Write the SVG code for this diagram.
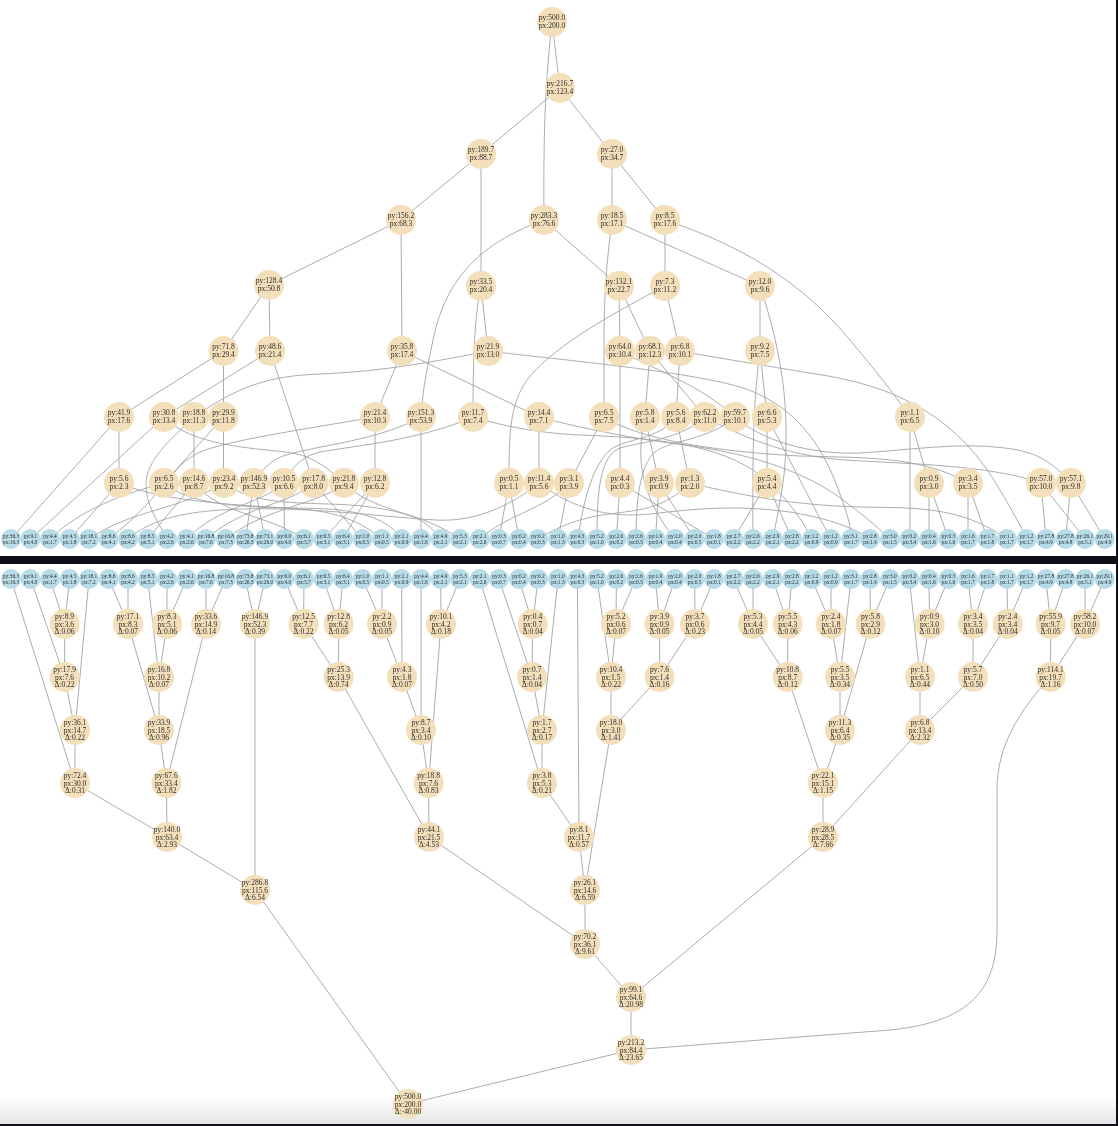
<svg xmlns="http://www.w3.org/2000/svg" width="1118" height="1126" viewBox="0 0 1118 1126">
<style>
.e path{fill:none;stroke:#a4a4a4;stroke-width:.9}
.n{fill:#f3dfba}
.l{fill:#b7dce8}
text{font-family:"Liberation Serif","Times New Roman",serif;fill:#2c2c2c;text-anchor:middle}
.t{font-size:7.5px}
.s{font-size:5.4px}
</style>
<defs>
<filter id="soft" x="0" y="0" width="1" height="1"><feGaussianBlur stdDeviation="0.45"/></filter>
<linearGradient id="fade" x1="0" y1="0" x2="0" y2="1"><stop offset="0" stop-color="#fff"/><stop offset="1" stop-color="#e6e6e6"/></linearGradient>
</defs>
<rect width="1118" height="1126" fill="#fff"/>
<rect y="1096" width="1118" height="28" fill="url(#fade)"/>
<g filter="url(#soft)">
<g id="connectors" class="e">
<path d="M552 22L560 88M552 22C547 70 543 110 544 220M560 88L481 154M560 88L612 154M481 154L401 220M481 154L481 286M612 154L612 220M612 154L665 220M401 220L269 285M401 220L402 351M544 220L619 286M544 220C490 240 447 270 433 340C428 365 423 385 421 417M612 220C608 250 604 290 604 340L604 417M612 220L760 286M665 220L665 286M665 220C740 245 800 280 850 340C875 370 895 395 910 417"/>
<path d="M481 286L488 351M481 286C476 310 473 340 473 417M619 286L620 351M619 286L650 351M665 286C600 320 550 350 527 380C510 405 509 430 509 483M665 286L680 351M760 286L760 351M760 286C778 340 787 390 786 440C786 480 778 510 773 539M269 285L223.500 351M269 285L270 351"/>
<path d="M223.500 351L119 417M223.500 351L223.500 417M270 351L164 417M270 351L313.600 483M402 351L375 417M402 351L539 417M488 351C420 365 370 372 320 374C270 376 240 385 194 417M488 351C560 360 700 372 749 390C800 410 825 450 841 497C846 510 851 525 851 539M680 351C730 360 780 368 809 373C900 385 960 420 1000 490C1012 510 1020 525 1027 539M620 351L620 483M620 351C660 372 700 385 735 417M650 351L645 417M650 351L705 417M680 351L676 417M760 351L767 417M760 351C755 390 752 430 753 539"/>
<path d="M119 417L119 483M119 417L11 539M164 417L30.500 539M164 417C190 445 250 448 286 452C310 455 325 465 344 483M194 417L194 483M194 417C170 440 146 460 146 485C146 505 157 520 167 539M223.500 417L223.500 483M223.500 417L164 483M375 417L375 483M375 417C300 430 230 440 200 452C185 460 180 465 175 472C155 495 140 515 108.700 539M421 417C380 440 320 445 286 455C270 460 262 470 254 483M421 417L421 539M473 417C420 440 360 445 320 452C300 457 292 468 284 483M473 417C500 425 535 433 580 435C660 438 720 445 760 475C780 490 800 515 812 539M539 417L539 483M539 417C580 428 640 440 685 445C760 455 810 475 843 500C860 512 875 525 890 539M604 417L569 483M604 417C640 440 720 452 800 456C860 458 920 455 968 483M645 417L659 483M645 417C638 450 635 490 675 539M676 417L690 483M676 417C660 440 625 438 610 450C590 468 582 510 578 539M705 417C740 435 780 455 845 460C910 464 990 465 1041 483M705 417C680 440 640 442 620 448C600 456 597 490 597 539M735 417C760 440 810 455 860 453C910 450 960 442 1005 448C1040 452 1055 465 1071 483M735 417C710 440 670 440 655 452C640 465 636 500 636 539M767 417L767 483M767 417C790 460 815 510 831 539M910 417L929 483M910 417L910 539"/>
<path d="M119 483L69.600 539M119 483C170 505 260 505 310 510C345 514 365 525 382 539M164 483C120 495 80 510 50 539M164 483C200 515 300 505 340 510C370 514 390 522 402 539M194 483L147.700 539M194 483C220 515 270 515 304 539M224 483C180 510 130 510 89 539M224 483C260 510 320 500 370 507C410 512 440 525 460 539M254 483L245.400 539M254 483L265 539M284 483L284.400 539M284 483C260 505 220 505 186.800 539M313.600 483C290 505 245 505 206 539M313.600 483L362.500 539M344 483C320 505 270 505 225.800 539M344 483C365 505 400 510 420 520C428 524 435 532 441 539M375 483L323.500 539M375 483L343 539M509 483L499 539M509 483L519 539M539 483C505 510 470 522 436 520C370 516 300 505 220 510C180 513 150 520 128 539M539 483C575 510 610 518 650 514C700 508 740 505 790 512C820 517 850 525 870 539M569 483L558 539M569 483C545 510 505 515 480 539M620 483L616.400 539M620 483L714 539M659 483L655.500 539M659 483L694.600 539M690 483C665 508 640 510 617 513C590 516 565 522 538 539M690 483C740 495 790 505 860 507C910 508 960 505 1007 539M767 483L733.600 539M767 483L792 539M929 483L929 539M929 483L948.400 539M968 483L968 539M968 483L987.500 539M1041 483L1046 539M1041 483L1085 539M1071 483L1065.600 539M1071 483L1104.700 539"/>
<path d="M11 579L75 783M30.500 579L64.600 677M50 579L64.600 624M69.600 579L64.600 624M89 579L75 730M108.700 579L128 624M128 579L128 624M147.700 579L159 677M167 579L167 624M186.800 579L167 624M206 579L206 624M225.800 579L206 624M245.400 579L255 624M265 579L255 624M284.400 579L303.600 624M304 579L303.600 624M323.500 579L338.600 624M343 579L338.600 624M362.500 579L382 624M382 579L382 624M401.600 579L402 677M421 579L421 730M440.700 579L441 624M460 579L441 624M479.700 579L542 783M499 579L532 677M519 579L532.700 624M538 579L532.700 624M558 579L542 730M577.400 579L579 837M597 579L611 677M616.400 579L616 624M636 579L616 624M655.500 579L659.600 624M675 579L659.600 624M694.600 579L695 624M714 579L695 624M733.600 579L753 624M753 579L753 624M772.700 579L787.700 624M792 579L787.700 624M811.700 579L831 624M831 579L831 624M851 579L840 677M870 579L870.500 624M890 579L870.500 624M909.400 579L920 677M929 579L929.600 624M948.400 579L929.600 624M968 579L973 624M987.500 579L973 624M1007 579L1007.700 624M1026.600 579L1007.700 624M1046 579L1050.600 624M1065.600 579L1050.600 624M1085 579L1085 624M1104.700 579L1085 624"/>
<path d="M64.600 624L64.600 677M64.600 677L75 730M75 730L75 783M75 783L167 837M128 624L159 730M167 624L159 677M159 677L159 730M206 624L166.400 783M159 730L166.400 783M166.400 783L167 837M167 837L255 890M255 624L255 890M255 890L408 1104M303.600 624L338.600 677M338.600 624L338.600 677M338.600 677L429 837M382 624L402 677M402 677L421 730M421 730L428.600 783M441 624L428.600 783M428.600 783L429 837M429 837L585 944M532.700 624L532 677M532 677L542 730M542 730L542 783M542 783L579 837M579 837L585 890M616 624L611 677M611 677L611 730M659.600 624L659.600 677M695 624L659.600 677M659.600 677L611 730M611 730L585 890M585 890L585 944M585 944L631 997M753 624L787.700 677M787.700 624L787.700 677M787.700 677L823 783M831 624L840 677M840 677L840 730M870.500 624L840 730M840 730L823 783M823 783L823 837M823 837L631 997M929.600 624L920 677M920 677L920 730M973 624L973 677M1007.700 624L973 677M973 677L920 730M920 730L823 837M1050.600 624L1050.600 677M1085 624L1050.600 677M1050.600 677C1020 710 997 745 997 790L997 930C997 990 970 1022 890 1030L631 1050M631 997L631 1050M631 1050L408 1104"/>
</g>
<g id="t1" transform="translate(552 22)"><circle class="n" r="15"/><text class="t" y="-2">py:500.0</text><text class="t" y="5.500">px:200.0</text></g>
<g id="t2" transform="translate(560 88)"><circle class="n" r="15"/><text class="t" y="-2">py:216.7</text><text class="t" y="5.500">px:123.4</text></g>
<g id="t3" transform="translate(481 154)"><circle class="n" r="15"/><text class="t" y="-2">py:189.7</text><text class="t" y="5.500">px:88.7</text></g>
<g id="t4" transform="translate(612 154)"><circle class="n" r="15"/><text class="t" y="-2">py:27.0</text><text class="t" y="5.500">px:34.7</text></g>
<g id="t5" transform="translate(401 220)"><circle class="n" r="15"/><text class="t" y="-2">py:156.2</text><text class="t" y="5.500">px:68.3</text></g>
<g id="t6" transform="translate(544 220)"><circle class="n" r="15"/><text class="t" y="-2">py:283.3</text><text class="t" y="5.500">px:76.6</text></g>
<g id="t7" transform="translate(612 220)"><circle class="n" r="15"/><text class="t" y="-2">py:18.5</text><text class="t" y="5.500">px:17.1</text></g>
<g id="t8" transform="translate(665 220)"><circle class="n" r="15"/><text class="t" y="-2">py:8.5</text><text class="t" y="5.500">px:17.6</text></g>
<g id="t9" transform="translate(269 285)"><circle class="n" r="15"/><text class="t" y="-2">py:128.4</text><text class="t" y="5.500">px:50.8</text></g>
<g id="t10" transform="translate(481 286)"><circle class="n" r="15"/><text class="t" y="-2">py:33.5</text><text class="t" y="5.500">px:20.4</text></g>
<g id="t11" transform="translate(619 286)"><circle class="n" r="15"/><text class="t" y="-2">py:132.1</text><text class="t" y="5.500">px:22.7</text></g>
<g id="t12" transform="translate(665 286)"><circle class="n" r="15"/><text class="t" y="-2">py:7.3</text><text class="t" y="5.500">px:11.2</text></g>
<g id="t13" transform="translate(760 286)"><circle class="n" r="15"/><text class="t" y="-2">py:12.0</text><text class="t" y="5.500">px:9.6</text></g>
<g id="t14" transform="translate(223.500 351)"><circle class="n" r="15"/><text class="t" y="-2">py:71.8</text><text class="t" y="5.500">px:29.4</text></g>
<g id="t15" transform="translate(270 351)"><circle class="n" r="15"/><text class="t" y="-2">py:48.6</text><text class="t" y="5.500">px:21.4</text></g>
<g id="t16" transform="translate(402 351)"><circle class="n" r="15"/><text class="t" y="-2">py:35.8</text><text class="t" y="5.500">px:17.4</text></g>
<g id="t17" transform="translate(488 351)"><circle class="n" r="15"/><text class="t" y="-2">py:21.9</text><text class="t" y="5.500">px:13.0</text></g>
<g id="t18" transform="translate(620 351)"><circle class="n" r="15"/><text class="t" y="-2">py:64.0</text><text class="t" y="5.500">px:10.4</text></g>
<g id="t19" transform="translate(650 351)"><circle class="n" r="15"/><text class="t" y="-2">py:68.1</text><text class="t" y="5.500">px:12.3</text></g>
<g id="t20" transform="translate(680 351)"><circle class="n" r="15"/><text class="t" y="-2">py:6.8</text><text class="t" y="5.500">px:10.1</text></g>
<g id="t21" transform="translate(760 351)"><circle class="n" r="15"/><text class="t" y="-2">py:9.2</text><text class="t" y="5.500">px:7.5</text></g>
<g id="t22" transform="translate(119 417)"><circle class="n" r="15"/><text class="t" y="-2">py:41.9</text><text class="t" y="5.500">px:17.6</text></g>
<g id="t23" transform="translate(164 417)"><circle class="n" r="15"/><text class="t" y="-2">py:30.8</text><text class="t" y="5.500">px:13.4</text></g>
<g id="t24" transform="translate(194 417)"><circle class="n" r="15"/><text class="t" y="-2">py:18.8</text><text class="t" y="5.500">px:11.3</text></g>
<g id="t25" transform="translate(223.500 417)"><circle class="n" r="15"/><text class="t" y="-2">py:29.9</text><text class="t" y="5.500">px:11.8</text></g>
<g id="t26" transform="translate(375 417)"><circle class="n" r="15"/><text class="t" y="-2">py:21.4</text><text class="t" y="5.500">px:10.3</text></g>
<g id="t27" transform="translate(421 417)"><circle class="n" r="15"/><text class="t" y="-2">py:151.3</text><text class="t" y="5.500">px:53.9</text></g>
<g id="t28" transform="translate(473 417)"><circle class="n" r="15"/><text class="t" y="-2">py:11.7</text><text class="t" y="5.500">px:7.4</text></g>
<g id="t29" transform="translate(539 417)"><circle class="n" r="15"/><text class="t" y="-2">py:14.4</text><text class="t" y="5.500">px:7.1</text></g>
<g id="t30" transform="translate(604 417)"><circle class="n" r="15"/><text class="t" y="-2">py:6.5</text><text class="t" y="5.500">px:7.5</text></g>
<g id="t31" transform="translate(645 417)"><circle class="n" r="15"/><text class="t" y="-2">py:5.8</text><text class="t" y="5.500">px:1.4</text></g>
<g id="t32" transform="translate(676 417)"><circle class="n" r="15"/><text class="t" y="-2">py:5.6</text><text class="t" y="5.500">px:8.4</text></g>
<g id="t33" transform="translate(705 417)"><circle class="n" r="15"/><text class="t" y="-2">py:62.2</text><text class="t" y="5.500">px:11.0</text></g>
<g id="t34" transform="translate(735 417)"><circle class="n" r="15"/><text class="t" y="-2">py:59.7</text><text class="t" y="5.500">px:10.1</text></g>
<g id="t35" transform="translate(767 417)"><circle class="n" r="15"/><text class="t" y="-2">py:6.6</text><text class="t" y="5.500">px:5.3</text></g>
<g id="t36" transform="translate(910 417)"><circle class="n" r="15"/><text class="t" y="-2">py:1.1</text><text class="t" y="5.500">px:6.5</text></g>
<g id="t37" transform="translate(119 483)"><circle class="n" r="15"/><text class="t" y="-2">py:5.6</text><text class="t" y="5.500">px:2.3</text></g>
<g id="t38" transform="translate(164 483)"><circle class="n" r="15"/><text class="t" y="-2">py:6.5</text><text class="t" y="5.500">px:2.6</text></g>
<g id="t39" transform="translate(194 483)"><circle class="n" r="15"/><text class="t" y="-2">py:14.6</text><text class="t" y="5.500">px:8.7</text></g>
<g id="t40" transform="translate(224 483)"><circle class="n" r="15"/><text class="t" y="-2">py:23.4</text><text class="t" y="5.500">px:9.2</text></g>
<g id="t41" transform="translate(254 483)"><circle class="n" r="15"/><text class="t" y="-2">py:146.9</text><text class="t" y="5.500">px:52.3</text></g>
<g id="t42" transform="translate(284 483)"><circle class="n" r="15"/><text class="t" y="-2">py:10.5</text><text class="t" y="5.500">px:6.6</text></g>
<g id="t43" transform="translate(313.600 483)"><circle class="n" r="15"/><text class="t" y="-2">py:17.8</text><text class="t" y="5.500">px:8.0</text></g>
<g id="t44" transform="translate(344 483)"><circle class="n" r="15"/><text class="t" y="-2">py:21.8</text><text class="t" y="5.500">px:9.4</text></g>
<g id="t45" transform="translate(375 483)"><circle class="n" r="15"/><text class="t" y="-2">py:12.8</text><text class="t" y="5.500">px:6.2</text></g>
<g id="t46" transform="translate(509 483)"><circle class="n" r="15"/><text class="t" y="-2">py:0.5</text><text class="t" y="5.500">px:1.1</text></g>
<g id="t47" transform="translate(539 483)"><circle class="n" r="15"/><text class="t" y="-2">py:11.4</text><text class="t" y="5.500">px:5.6</text></g>
<g id="t48" transform="translate(569 483)"><circle class="n" r="15"/><text class="t" y="-2">py:3.1</text><text class="t" y="5.500">px:3.9</text></g>
<g id="t49" transform="translate(620 483)"><circle class="n" r="15"/><text class="t" y="-2">py:4.4</text><text class="t" y="5.500">px:0.3</text></g>
<g id="t50" transform="translate(659 483)"><circle class="n" r="15"/><text class="t" y="-2">py:3.9</text><text class="t" y="5.500">px:0.9</text></g>
<g id="t51" transform="translate(690 483)"><circle class="n" r="15"/><text class="t" y="-2">py:1.3</text><text class="t" y="5.500">px:2.0</text></g>
<g id="t52" transform="translate(767 483)"><circle class="n" r="15"/><text class="t" y="-2">py:5.4</text><text class="t" y="5.500">px:4.4</text></g>
<g id="t53" transform="translate(929 483)"><circle class="n" r="15"/><text class="t" y="-2">py:0.9</text><text class="t" y="5.500">px:3.0</text></g>
<g id="t54" transform="translate(968 483)"><circle class="n" r="15"/><text class="t" y="-2">py:3.4</text><text class="t" y="5.500">px:3.5</text></g>
<g id="t55" transform="translate(1041 483)"><circle class="n" r="15"/><text class="t" y="-2">py:57.0</text><text class="t" y="5.500">px:10.0</text></g>
<g id="t56" transform="translate(1071 483)"><circle class="n" r="15"/><text class="t" y="-2">py:57.1</text><text class="t" y="5.500">px:9.8</text></g>
<g id="lt0" transform="translate(11 539)"><circle class="l" r="10"/><text class="s" y="-1.500">py:36.3</text><text class="s" y="5">px:19.3</text></g>
<g id="lt1" transform="translate(30.500 539)"><circle class="l" r="10"/><text class="s" y="-1.500">py:9.1</text><text class="s" y="5">px:4.0</text></g>
<g id="lt2" transform="translate(50 539)"><circle class="l" r="10"/><text class="s" y="-1.500">py:4.4</text><text class="s" y="5">px:1.7</text></g>
<g id="lt3" transform="translate(69.600 539)"><circle class="l" r="10"/><text class="s" y="-1.500">py:4.5</text><text class="s" y="5">px:1.8</text></g>
<g id="lt4" transform="translate(89 539)"><circle class="l" r="10"/><text class="s" y="-1.500">py:18.1</text><text class="s" y="5">px:7.2</text></g>
<g id="lt5" transform="translate(108.700 539)"><circle class="l" r="10"/><text class="s" y="-1.500">py:8.6</text><text class="s" y="5">px:4.1</text></g>
<g id="lt6" transform="translate(128 539)"><circle class="l" r="10"/><text class="s" y="-1.500">py:8.6</text><text class="s" y="5">px:4.2</text></g>
<g id="lt7" transform="translate(147.700 539)"><circle class="l" r="10"/><text class="s" y="-1.500">py:8.5</text><text class="s" y="5">px:5.1</text></g>
<g id="lt8" transform="translate(167 539)"><circle class="l" r="10"/><text class="s" y="-1.500">py:4.2</text><text class="s" y="5">px:2.6</text></g>
<g id="lt9" transform="translate(186.800 539)"><circle class="l" r="10"/><text class="s" y="-1.500">py:4.1</text><text class="s" y="5">px:2.6</text></g>
<g id="lt10" transform="translate(206 539)"><circle class="l" r="10"/><text class="s" y="-1.500">py:16.8</text><text class="s" y="5">px:7.6</text></g>
<g id="lt11" transform="translate(225.800 539)"><circle class="l" r="10"/><text class="s" y="-1.500">py:16.8</text><text class="s" y="5">px:7.3</text></g>
<g id="lt12" transform="translate(245.400 539)"><circle class="l" r="10"/><text class="s" y="-1.500">py:73.8</text><text class="s" y="5">px:26.3</text></g>
<g id="lt13" transform="translate(265 539)"><circle class="l" r="10"/><text class="s" y="-1.500">py:73.1</text><text class="s" y="5">px:26.0</text></g>
<g id="lt14" transform="translate(284.400 539)"><circle class="l" r="10"/><text class="s" y="-1.500">py:6.0</text><text class="s" y="5">px:4.0</text></g>
<g id="lt15" transform="translate(304 539)"><circle class="l" r="10"/><text class="s" y="-1.500">py:6.1</text><text class="s" y="5">px:3.7</text></g>
<g id="lt16" transform="translate(323.500 539)"><circle class="l" r="10"/><text class="s" y="-1.500">py:6.5</text><text class="s" y="5">px:3.1</text></g>
<g id="lt17" transform="translate(343 539)"><circle class="l" r="10"/><text class="s" y="-1.500">py:6.4</text><text class="s" y="5">px:3.1</text></g>
<g id="lt18" transform="translate(362.500 539)"><circle class="l" r="10"/><text class="s" y="-1.500">py:1.0</text><text class="s" y="5">px:0.5</text></g>
<g id="lt19" transform="translate(382 539)"><circle class="l" r="10"/><text class="s" y="-1.500">py:1.1</text><text class="s" y="5">px:0.5</text></g>
<g id="lt20" transform="translate(401.600 539)"><circle class="l" r="10"/><text class="s" y="-1.500">py:2.1</text><text class="s" y="5">px:0.9</text></g>
<g id="lt21" transform="translate(421 539)"><circle class="l" r="10"/><text class="s" y="-1.500">py:4.4</text><text class="s" y="5">px:1.6</text></g>
<g id="lt22" transform="translate(440.700 539)"><circle class="l" r="10"/><text class="s" y="-1.500">py:4.9</text><text class="s" y="5">px:2.1</text></g>
<g id="lt23" transform="translate(460 539)"><circle class="l" r="10"/><text class="s" y="-1.500">py:5.3</text><text class="s" y="5">px:2.1</text></g>
<g id="lt24" transform="translate(479.700 539)"><circle class="l" r="10"/><text class="s" y="-1.500">py:2.1</text><text class="s" y="5">px:2.6</text></g>
<g id="lt25" transform="translate(499 539)"><circle class="l" r="10"/><text class="s" y="-1.500">py:0.3</text><text class="s" y="5">px:0.7</text></g>
<g id="lt26" transform="translate(519 539)"><circle class="l" r="10"/><text class="s" y="-1.500">py:0.2</text><text class="s" y="5">px:0.4</text></g>
<g id="lt27" transform="translate(538 539)"><circle class="l" r="10"/><text class="s" y="-1.500">py:0.2</text><text class="s" y="5">px:0.3</text></g>
<g id="lt28" transform="translate(558 539)"><circle class="l" r="10"/><text class="s" y="-1.500">py:1.0</text><text class="s" y="5">px:1.3</text></g>
<g id="lt29" transform="translate(577.400 539)"><circle class="l" r="10"/><text class="s" y="-1.500">py:4.3</text><text class="s" y="5">px:6.3</text></g>
<g id="lt30" transform="translate(597 539)"><circle class="l" r="10"/><text class="s" y="-1.500">py:5.2</text><text class="s" y="5">px:1.0</text></g>
<g id="lt31" transform="translate(616.400 539)"><circle class="l" r="10"/><text class="s" y="-1.500">py:2.6</text><text class="s" y="5">px:0.2</text></g>
<g id="lt32" transform="translate(636 539)"><circle class="l" r="10"/><text class="s" y="-1.500">py:2.6</text><text class="s" y="5">px:0.3</text></g>
<g id="lt33" transform="translate(655.500 539)"><circle class="l" r="10"/><text class="s" y="-1.500">py:1.9</text><text class="s" y="5">px:0.4</text></g>
<g id="lt34" transform="translate(675 539)"><circle class="l" r="10"/><text class="s" y="-1.500">py:2.0</text><text class="s" y="5">px:0.4</text></g>
<g id="lt35" transform="translate(694.600 539)"><circle class="l" r="10"/><text class="s" y="-1.500">py:2.0</text><text class="s" y="5">px:0.5</text></g>
<g id="lt36" transform="translate(714 539)"><circle class="l" r="10"/><text class="s" y="-1.500">py:1.8</text><text class="s" y="5">px:0.1</text></g>
<g id="lt37" transform="translate(733.600 539)"><circle class="l" r="10"/><text class="s" y="-1.500">py:2.7</text><text class="s" y="5">px:2.2</text></g>
<g id="lt38" transform="translate(753 539)"><circle class="l" r="10"/><text class="s" y="-1.500">py:2.6</text><text class="s" y="5">px:2.2</text></g>
<g id="lt39" transform="translate(772.700 539)"><circle class="l" r="10"/><text class="s" y="-1.500">py:2.9</text><text class="s" y="5">px:2.1</text></g>
<g id="lt40" transform="translate(792 539)"><circle class="l" r="10"/><text class="s" y="-1.500">py:2.8</text><text class="s" y="5">px:2.2</text></g>
<g id="lt41" transform="translate(811.700 539)"><circle class="l" r="10"/><text class="s" y="-1.500">py:1.2</text><text class="s" y="5">px:0.9</text></g>
<g id="lt42" transform="translate(831 539)"><circle class="l" r="10"/><text class="s" y="-1.500">py:1.2</text><text class="s" y="5">px:0.9</text></g>
<g id="lt43" transform="translate(851 539)"><circle class="l" r="10"/><text class="s" y="-1.500">py:3.1</text><text class="s" y="5">px:1.7</text></g>
<g id="lt44" transform="translate(870 539)"><circle class="l" r="10"/><text class="s" y="-1.500">py:2.8</text><text class="s" y="5">px:1.4</text></g>
<g id="lt45" transform="translate(890 539)"><circle class="l" r="10"/><text class="s" y="-1.500">py:3.0</text><text class="s" y="5">px:1.5</text></g>
<g id="lt46" transform="translate(909.400 539)"><circle class="l" r="10"/><text class="s" y="-1.500">py:0.2</text><text class="s" y="5">px:3.4</text></g>
<g id="lt47" transform="translate(929 539)"><circle class="l" r="10"/><text class="s" y="-1.500">py:0.4</text><text class="s" y="5">px:1.6</text></g>
<g id="lt48" transform="translate(948.400 539)"><circle class="l" r="10"/><text class="s" y="-1.500">py:0.3</text><text class="s" y="5">px:1.6</text></g>
<g id="lt49" transform="translate(968 539)"><circle class="l" r="10"/><text class="s" y="-1.500">py:1.6</text><text class="s" y="5">px:1.7</text></g>
<g id="lt50" transform="translate(987.500 539)"><circle class="l" r="10"/><text class="s" y="-1.500">py:1.7</text><text class="s" y="5">px:1.8</text></g>
<g id="lt51" transform="translate(1007 539)"><circle class="l" r="10"/><text class="s" y="-1.500">py:1.1</text><text class="s" y="5">px:1.7</text></g>
<g id="lt52" transform="translate(1026.600 539)"><circle class="l" r="10"/><text class="s" y="-1.500">py:1.2</text><text class="s" y="5">px:1.7</text></g>
<g id="lt53" transform="translate(1046 539)"><circle class="l" r="10"/><text class="s" y="-1.500">py:27.8</text><text class="s" y="5">px:4.9</text></g>
<g id="lt54" transform="translate(1065.600 539)"><circle class="l" r="10"/><text class="s" y="-1.500">py:27.8</text><text class="s" y="5">px:4.8</text></g>
<g id="lt55" transform="translate(1085 539)"><circle class="l" r="10"/><text class="s" y="-1.500">py:26.1</text><text class="s" y="5">px:5.1</text></g>
<g id="lt56" transform="translate(1104.700 539)"><circle class="l" r="10"/><text class="s" y="-1.500">py:29.1</text><text class="s" y="5">px:4.9</text></g>
<g id="lb0" transform="translate(11 579)"><circle class="l" r="10"/><text class="s" y="-1.500">py:36.3</text><text class="s" y="5">px:19.3</text></g>
<g id="lb1" transform="translate(30.500 579)"><circle class="l" r="10"/><text class="s" y="-1.500">py:9.1</text><text class="s" y="5">px:4.0</text></g>
<g id="lb2" transform="translate(50 579)"><circle class="l" r="10"/><text class="s" y="-1.500">py:4.4</text><text class="s" y="5">px:1.7</text></g>
<g id="lb3" transform="translate(69.600 579)"><circle class="l" r="10"/><text class="s" y="-1.500">py:4.5</text><text class="s" y="5">px:1.8</text></g>
<g id="lb4" transform="translate(89 579)"><circle class="l" r="10"/><text class="s" y="-1.500">py:18.1</text><text class="s" y="5">px:7.2</text></g>
<g id="lb5" transform="translate(108.700 579)"><circle class="l" r="10"/><text class="s" y="-1.500">py:8.6</text><text class="s" y="5">px:4.1</text></g>
<g id="lb6" transform="translate(128 579)"><circle class="l" r="10"/><text class="s" y="-1.500">py:8.6</text><text class="s" y="5">px:4.2</text></g>
<g id="lb7" transform="translate(147.700 579)"><circle class="l" r="10"/><text class="s" y="-1.500">py:8.5</text><text class="s" y="5">px:5.1</text></g>
<g id="lb8" transform="translate(167 579)"><circle class="l" r="10"/><text class="s" y="-1.500">py:4.2</text><text class="s" y="5">px:2.6</text></g>
<g id="lb9" transform="translate(186.800 579)"><circle class="l" r="10"/><text class="s" y="-1.500">py:4.1</text><text class="s" y="5">px:2.6</text></g>
<g id="lb10" transform="translate(206 579)"><circle class="l" r="10"/><text class="s" y="-1.500">py:16.8</text><text class="s" y="5">px:7.6</text></g>
<g id="lb11" transform="translate(225.800 579)"><circle class="l" r="10"/><text class="s" y="-1.500">py:16.8</text><text class="s" y="5">px:7.3</text></g>
<g id="lb12" transform="translate(245.400 579)"><circle class="l" r="10"/><text class="s" y="-1.500">py:73.8</text><text class="s" y="5">px:26.3</text></g>
<g id="lb13" transform="translate(265 579)"><circle class="l" r="10"/><text class="s" y="-1.500">py:73.1</text><text class="s" y="5">px:26.0</text></g>
<g id="lb14" transform="translate(284.400 579)"><circle class="l" r="10"/><text class="s" y="-1.500">py:6.0</text><text class="s" y="5">px:4.0</text></g>
<g id="lb15" transform="translate(304 579)"><circle class="l" r="10"/><text class="s" y="-1.500">py:6.1</text><text class="s" y="5">px:3.7</text></g>
<g id="lb16" transform="translate(323.500 579)"><circle class="l" r="10"/><text class="s" y="-1.500">py:6.5</text><text class="s" y="5">px:3.1</text></g>
<g id="lb17" transform="translate(343 579)"><circle class="l" r="10"/><text class="s" y="-1.500">py:6.4</text><text class="s" y="5">px:3.1</text></g>
<g id="lb18" transform="translate(362.500 579)"><circle class="l" r="10"/><text class="s" y="-1.500">py:1.0</text><text class="s" y="5">px:0.5</text></g>
<g id="lb19" transform="translate(382 579)"><circle class="l" r="10"/><text class="s" y="-1.500">py:1.1</text><text class="s" y="5">px:0.5</text></g>
<g id="lb20" transform="translate(401.600 579)"><circle class="l" r="10"/><text class="s" y="-1.500">py:2.1</text><text class="s" y="5">px:0.9</text></g>
<g id="lb21" transform="translate(421 579)"><circle class="l" r="10"/><text class="s" y="-1.500">py:4.4</text><text class="s" y="5">px:1.6</text></g>
<g id="lb22" transform="translate(440.700 579)"><circle class="l" r="10"/><text class="s" y="-1.500">py:4.9</text><text class="s" y="5">px:2.1</text></g>
<g id="lb23" transform="translate(460 579)"><circle class="l" r="10"/><text class="s" y="-1.500">py:5.3</text><text class="s" y="5">px:2.1</text></g>
<g id="lb24" transform="translate(479.700 579)"><circle class="l" r="10"/><text class="s" y="-1.500">py:2.1</text><text class="s" y="5">px:2.6</text></g>
<g id="lb25" transform="translate(499 579)"><circle class="l" r="10"/><text class="s" y="-1.500">py:0.3</text><text class="s" y="5">px:0.7</text></g>
<g id="lb26" transform="translate(519 579)"><circle class="l" r="10"/><text class="s" y="-1.500">py:0.2</text><text class="s" y="5">px:0.4</text></g>
<g id="lb27" transform="translate(538 579)"><circle class="l" r="10"/><text class="s" y="-1.500">py:0.2</text><text class="s" y="5">px:0.3</text></g>
<g id="lb28" transform="translate(558 579)"><circle class="l" r="10"/><text class="s" y="-1.500">py:1.0</text><text class="s" y="5">px:1.3</text></g>
<g id="lb29" transform="translate(577.400 579)"><circle class="l" r="10"/><text class="s" y="-1.500">py:4.3</text><text class="s" y="5">px:6.3</text></g>
<g id="lb30" transform="translate(597 579)"><circle class="l" r="10"/><text class="s" y="-1.500">py:5.2</text><text class="s" y="5">px:1.0</text></g>
<g id="lb31" transform="translate(616.400 579)"><circle class="l" r="10"/><text class="s" y="-1.500">py:2.6</text><text class="s" y="5">px:0.2</text></g>
<g id="lb32" transform="translate(636 579)"><circle class="l" r="10"/><text class="s" y="-1.500">py:2.6</text><text class="s" y="5">px:0.3</text></g>
<g id="lb33" transform="translate(655.500 579)"><circle class="l" r="10"/><text class="s" y="-1.500">py:1.9</text><text class="s" y="5">px:0.4</text></g>
<g id="lb34" transform="translate(675 579)"><circle class="l" r="10"/><text class="s" y="-1.500">py:2.0</text><text class="s" y="5">px:0.4</text></g>
<g id="lb35" transform="translate(694.600 579)"><circle class="l" r="10"/><text class="s" y="-1.500">py:2.0</text><text class="s" y="5">px:0.5</text></g>
<g id="lb36" transform="translate(714 579)"><circle class="l" r="10"/><text class="s" y="-1.500">py:1.8</text><text class="s" y="5">px:0.1</text></g>
<g id="lb37" transform="translate(733.600 579)"><circle class="l" r="10"/><text class="s" y="-1.500">py:2.7</text><text class="s" y="5">px:2.2</text></g>
<g id="lb38" transform="translate(753 579)"><circle class="l" r="10"/><text class="s" y="-1.500">py:2.6</text><text class="s" y="5">px:2.2</text></g>
<g id="lb39" transform="translate(772.700 579)"><circle class="l" r="10"/><text class="s" y="-1.500">py:2.9</text><text class="s" y="5">px:2.1</text></g>
<g id="lb40" transform="translate(792 579)"><circle class="l" r="10"/><text class="s" y="-1.500">py:2.8</text><text class="s" y="5">px:2.2</text></g>
<g id="lb41" transform="translate(811.700 579)"><circle class="l" r="10"/><text class="s" y="-1.500">py:1.2</text><text class="s" y="5">px:0.9</text></g>
<g id="lb42" transform="translate(831 579)"><circle class="l" r="10"/><text class="s" y="-1.500">py:1.2</text><text class="s" y="5">px:0.9</text></g>
<g id="lb43" transform="translate(851 579)"><circle class="l" r="10"/><text class="s" y="-1.500">py:3.1</text><text class="s" y="5">px:1.7</text></g>
<g id="lb44" transform="translate(870 579)"><circle class="l" r="10"/><text class="s" y="-1.500">py:2.8</text><text class="s" y="5">px:1.4</text></g>
<g id="lb45" transform="translate(890 579)"><circle class="l" r="10"/><text class="s" y="-1.500">py:3.0</text><text class="s" y="5">px:1.5</text></g>
<g id="lb46" transform="translate(909.400 579)"><circle class="l" r="10"/><text class="s" y="-1.500">py:0.2</text><text class="s" y="5">px:3.4</text></g>
<g id="lb47" transform="translate(929 579)"><circle class="l" r="10"/><text class="s" y="-1.500">py:0.4</text><text class="s" y="5">px:1.6</text></g>
<g id="lb48" transform="translate(948.400 579)"><circle class="l" r="10"/><text class="s" y="-1.500">py:0.3</text><text class="s" y="5">px:1.6</text></g>
<g id="lb49" transform="translate(968 579)"><circle class="l" r="10"/><text class="s" y="-1.500">py:1.6</text><text class="s" y="5">px:1.7</text></g>
<g id="lb50" transform="translate(987.500 579)"><circle class="l" r="10"/><text class="s" y="-1.500">py:1.7</text><text class="s" y="5">px:1.8</text></g>
<g id="lb51" transform="translate(1007 579)"><circle class="l" r="10"/><text class="s" y="-1.500">py:1.1</text><text class="s" y="5">px:1.7</text></g>
<g id="lb52" transform="translate(1026.600 579)"><circle class="l" r="10"/><text class="s" y="-1.500">py:1.2</text><text class="s" y="5">px:1.7</text></g>
<g id="lb53" transform="translate(1046 579)"><circle class="l" r="10"/><text class="s" y="-1.500">py:27.8</text><text class="s" y="5">px:4.9</text></g>
<g id="lb54" transform="translate(1065.600 579)"><circle class="l" r="10"/><text class="s" y="-1.500">py:27.8</text><text class="s" y="5">px:4.8</text></g>
<g id="lb55" transform="translate(1085 579)"><circle class="l" r="10"/><text class="s" y="-1.500">py:26.1</text><text class="s" y="5">px:5.1</text></g>
<g id="lb56" transform="translate(1104.700 579)"><circle class="l" r="10"/><text class="s" y="-1.500">py:29.1</text><text class="s" y="5">px:4.9</text></g>
<g id="b1" transform="translate(64.600 624)"><circle class="n" r="15"/><text class="t" y="-5.500">py:8.9</text><text class="t" y="2.500">px:3.6</text><text class="t" y="10">Δ:0.06</text></g>
<g id="b2" transform="translate(128 624)"><circle class="n" r="15"/><text class="t" y="-5.500">py:17.1</text><text class="t" y="2.500">px:8.3</text><text class="t" y="10">Δ:0.07</text></g>
<g id="b3" transform="translate(167 624)"><circle class="n" r="15"/><text class="t" y="-5.500">py:8.3</text><text class="t" y="2.500">px:5.1</text><text class="t" y="10">Δ:0.06</text></g>
<g id="b4" transform="translate(206 624)"><circle class="n" r="15"/><text class="t" y="-5.500">py:33.6</text><text class="t" y="2.500">px:14.9</text><text class="t" y="10">Δ:0.14</text></g>
<g id="b5" transform="translate(255 624)"><circle class="n" r="15"/><text class="t" y="-5.500">py:146.9</text><text class="t" y="2.500">px:52.3</text><text class="t" y="10">Δ:0.39</text></g>
<g id="b6" transform="translate(303.600 624)"><circle class="n" r="15"/><text class="t" y="-5.500">py:12.5</text><text class="t" y="2.500">px:7.7</text><text class="t" y="10">Δ:0.22</text></g>
<g id="b7" transform="translate(338.600 624)"><circle class="n" r="15"/><text class="t" y="-5.500">py:12.8</text><text class="t" y="2.500">px:6.2</text><text class="t" y="10">Δ:0.05</text></g>
<g id="b8" transform="translate(382 624)"><circle class="n" r="15"/><text class="t" y="-5.500">py:2.2</text><text class="t" y="2.500">px:0.9</text><text class="t" y="10">Δ:0.05</text></g>
<g id="b9" transform="translate(441 624)"><circle class="n" r="15"/><text class="t" y="-5.500">py:10.1</text><text class="t" y="2.500">px:4.2</text><text class="t" y="10">Δ:0.18</text></g>
<g id="b10" transform="translate(532.700 624)"><circle class="n" r="15"/><text class="t" y="-5.500">py:0.4</text><text class="t" y="2.500">px:0.7</text><text class="t" y="10">Δ:0.04</text></g>
<g id="b11" transform="translate(616 624)"><circle class="n" r="15"/><text class="t" y="-5.500">py:5.2</text><text class="t" y="2.500">px:0.6</text><text class="t" y="10">Δ:0.07</text></g>
<g id="b12" transform="translate(659.600 624)"><circle class="n" r="15"/><text class="t" y="-5.500">py:3.9</text><text class="t" y="2.500">px:0.9</text><text class="t" y="10">Δ:0.05</text></g>
<g id="b13" transform="translate(695 624)"><circle class="n" r="15"/><text class="t" y="-5.500">py:3.7</text><text class="t" y="2.500">px:0.6</text><text class="t" y="10">Δ:0.23</text></g>
<g id="b14" transform="translate(753 624)"><circle class="n" r="15"/><text class="t" y="-5.500">py:5.3</text><text class="t" y="2.500">px:4.4</text><text class="t" y="10">Δ:0.05</text></g>
<g id="b15" transform="translate(787.700 624)"><circle class="n" r="15"/><text class="t" y="-5.500">py:5.5</text><text class="t" y="2.500">px:4.3</text><text class="t" y="10">Δ:0.06</text></g>
<g id="b16" transform="translate(831 624)"><circle class="n" r="15"/><text class="t" y="-5.500">py:2.4</text><text class="t" y="2.500">px:1.8</text><text class="t" y="10">Δ:0.07</text></g>
<g id="b17" transform="translate(870.500 624)"><circle class="n" r="15"/><text class="t" y="-5.500">py:5.8</text><text class="t" y="2.500">px:2.9</text><text class="t" y="10">Δ:0.12</text></g>
<g id="b18" transform="translate(929.600 624)"><circle class="n" r="15"/><text class="t" y="-5.500">py:0.9</text><text class="t" y="2.500">px:3.0</text><text class="t" y="10">Δ:0.10</text></g>
<g id="b19" transform="translate(973 624)"><circle class="n" r="15"/><text class="t" y="-5.500">py:3.4</text><text class="t" y="2.500">px:3.5</text><text class="t" y="10">Δ:0.04</text></g>
<g id="b20" transform="translate(1007.700 624)"><circle class="n" r="15"/><text class="t" y="-5.500">py:2.4</text><text class="t" y="2.500">px:3.4</text><text class="t" y="10">Δ:0.04</text></g>
<g id="b21" transform="translate(1050.600 624)"><circle class="n" r="15"/><text class="t" y="-5.500">py:55.9</text><text class="t" y="2.500">px:9.7</text><text class="t" y="10">Δ:0.05</text></g>
<g id="b22" transform="translate(1085 624)"><circle class="n" r="15"/><text class="t" y="-5.500">py:58.2</text><text class="t" y="2.500">px:10.0</text><text class="t" y="10">Δ:0.07</text></g>
<g id="b23" transform="translate(64.600 677)"><circle class="n" r="15"/><text class="t" y="-5.500">py:17.9</text><text class="t" y="2.500">px:7.6</text><text class="t" y="10">Δ:0.22</text></g>
<g id="b24" transform="translate(159 677)"><circle class="n" r="15"/><text class="t" y="-5.500">py:16.8</text><text class="t" y="2.500">px:10.2</text><text class="t" y="10">Δ:0.07</text></g>
<g id="b25" transform="translate(338.600 677)"><circle class="n" r="15"/><text class="t" y="-5.500">py:25.3</text><text class="t" y="2.500">px:13.9</text><text class="t" y="10">Δ:0.74</text></g>
<g id="b26" transform="translate(402 677)"><circle class="n" r="15"/><text class="t" y="-5.500">py:4.3</text><text class="t" y="2.500">px:1.8</text><text class="t" y="10">Δ:0.07</text></g>
<g id="b27" transform="translate(532 677)"><circle class="n" r="15"/><text class="t" y="-5.500">py:0.7</text><text class="t" y="2.500">px:1.4</text><text class="t" y="10">Δ:0.04</text></g>
<g id="b28" transform="translate(611 677)"><circle class="n" r="15"/><text class="t" y="-5.500">py:10.4</text><text class="t" y="2.500">px:1.5</text><text class="t" y="10">Δ:0.22</text></g>
<g id="b29" transform="translate(659.600 677)"><circle class="n" r="15"/><text class="t" y="-5.500">py:7.6</text><text class="t" y="2.500">px:1.4</text><text class="t" y="10">Δ:0.16</text></g>
<g id="b30" transform="translate(787.700 677)"><circle class="n" r="15"/><text class="t" y="-5.500">py:10.8</text><text class="t" y="2.500">px:8.7</text><text class="t" y="10">Δ:0.12</text></g>
<g id="b31" transform="translate(840 677)"><circle class="n" r="15"/><text class="t" y="-5.500">py:5.5</text><text class="t" y="2.500">px:3.5</text><text class="t" y="10">Δ:0.34</text></g>
<g id="b32" transform="translate(920 677)"><circle class="n" r="15"/><text class="t" y="-5.500">py:1.1</text><text class="t" y="2.500">px:6.5</text><text class="t" y="10">Δ:0.44</text></g>
<g id="b33" transform="translate(973 677)"><circle class="n" r="15"/><text class="t" y="-5.500">py:5.7</text><text class="t" y="2.500">px:7.0</text><text class="t" y="10">Δ:0.50</text></g>
<g id="b34" transform="translate(1050.600 677)"><circle class="n" r="15"/><text class="t" y="-5.500">py:114.1</text><text class="t" y="2.500">px:19.7</text><text class="t" y="10">Δ:1.16</text></g>
<g id="b35" transform="translate(75 730)"><circle class="n" r="15"/><text class="t" y="-5.500">py:36.1</text><text class="t" y="2.500">px:14.7</text><text class="t" y="10">Δ:0.22</text></g>
<g id="b36" transform="translate(159 730)"><circle class="n" r="15"/><text class="t" y="-5.500">py:33.9</text><text class="t" y="2.500">px:18.5</text><text class="t" y="10">Δ:0.96</text></g>
<g id="b37" transform="translate(421 730)"><circle class="n" r="15"/><text class="t" y="-5.500">py:8.7</text><text class="t" y="2.500">px:3.4</text><text class="t" y="10">Δ:0.10</text></g>
<g id="b38" transform="translate(542 730)"><circle class="n" r="15"/><text class="t" y="-5.500">py:1.7</text><text class="t" y="2.500">px:2.7</text><text class="t" y="10">Δ:0.17</text></g>
<g id="b39" transform="translate(611 730)"><circle class="n" r="15"/><text class="t" y="-5.500">py:18.0</text><text class="t" y="2.500">px:3.0</text><text class="t" y="10">Δ:1.41</text></g>
<g id="b40" transform="translate(840 730)"><circle class="n" r="15"/><text class="t" y="-5.500">py:11.3</text><text class="t" y="2.500">px:6.4</text><text class="t" y="10">Δ:0.35</text></g>
<g id="b41" transform="translate(920 730)"><circle class="n" r="15"/><text class="t" y="-5.500">py:6.8</text><text class="t" y="2.500">px:13.4</text><text class="t" y="10">Δ:2.32</text></g>
<g id="b42" transform="translate(75 783)"><circle class="n" r="15"/><text class="t" y="-5.500">py:72.4</text><text class="t" y="2.500">px:30.0</text><text class="t" y="10">Δ:0.31</text></g>
<g id="b43" transform="translate(166.400 783)"><circle class="n" r="15"/><text class="t" y="-5.500">py:67.6</text><text class="t" y="2.500">px:33.4</text><text class="t" y="10">Δ:1.82</text></g>
<g id="b44" transform="translate(428.600 783)"><circle class="n" r="15"/><text class="t" y="-5.500">py:18.8</text><text class="t" y="2.500">px:7.6</text><text class="t" y="10">Δ:0.83</text></g>
<g id="b45" transform="translate(542 783)"><circle class="n" r="15"/><text class="t" y="-5.500">py:3.8</text><text class="t" y="2.500">px:5.3</text><text class="t" y="10">Δ:0.21</text></g>
<g id="b46" transform="translate(823 783)"><circle class="n" r="15"/><text class="t" y="-5.500">py:22.1</text><text class="t" y="2.500">px:15.1</text><text class="t" y="10">Δ:1.15</text></g>
<g id="b47" transform="translate(167 837)"><circle class="n" r="15"/><text class="t" y="-5.500">py:140.0</text><text class="t" y="2.500">px:63.4</text><text class="t" y="10">Δ:2.93</text></g>
<g id="b48" transform="translate(429 837)"><circle class="n" r="15"/><text class="t" y="-5.500">py:44.1</text><text class="t" y="2.500">px:21.5</text><text class="t" y="10">Δ:4.53</text></g>
<g id="b49" transform="translate(579 837)"><circle class="n" r="15"/><text class="t" y="-5.500">py:8.1</text><text class="t" y="2.500">px:11.7</text><text class="t" y="10">Δ:0.57</text></g>
<g id="b50" transform="translate(823 837)"><circle class="n" r="15"/><text class="t" y="-5.500">py:28.9</text><text class="t" y="2.500">px:28.5</text><text class="t" y="10">Δ:7.66</text></g>
<g id="b51" transform="translate(255 890)"><circle class="n" r="15"/><text class="t" y="-5.500">py:286.8</text><text class="t" y="2.500">px:115.6</text><text class="t" y="10">Δ:6.54</text></g>
<g id="b52" transform="translate(585 890)"><circle class="n" r="15"/><text class="t" y="-5.500">py:26.1</text><text class="t" y="2.500">px:14.6</text><text class="t" y="10">Δ:6.59</text></g>
<g id="b53" transform="translate(585 944)"><circle class="n" r="15"/><text class="t" y="-5.500">py:70.2</text><text class="t" y="2.500">px:36.1</text><text class="t" y="10">Δ:9.61</text></g>
<g id="b54" transform="translate(631 997)"><circle class="n" r="15"/><text class="t" y="-5.500">py:99.1</text><text class="t" y="2.500">px:64.6</text><text class="t" y="10">Δ:20.98</text></g>
<g id="b55" transform="translate(631 1050)"><circle class="n" r="15"/><text class="t" y="-5.500">py:213.2</text><text class="t" y="2.500">px:84.4</text><text class="t" y="10">Δ:23.65</text></g>
<g id="b56" transform="translate(408 1104)"><circle class="n" r="15"/><text class="t" y="-5.500">py:500.0</text><text class="t" y="2.500">px:200.0</text><text class="t" y="10">Δ:-40.00</text></g>
</g>
<rect y="556" width="1118" height="8" fill="#0d1117"/>
<rect y="1124" width="1118" height="2" fill="#0d1117"/>
<rect x="1116" width="2" height="1126" fill="#0d1117"/>
</svg>
